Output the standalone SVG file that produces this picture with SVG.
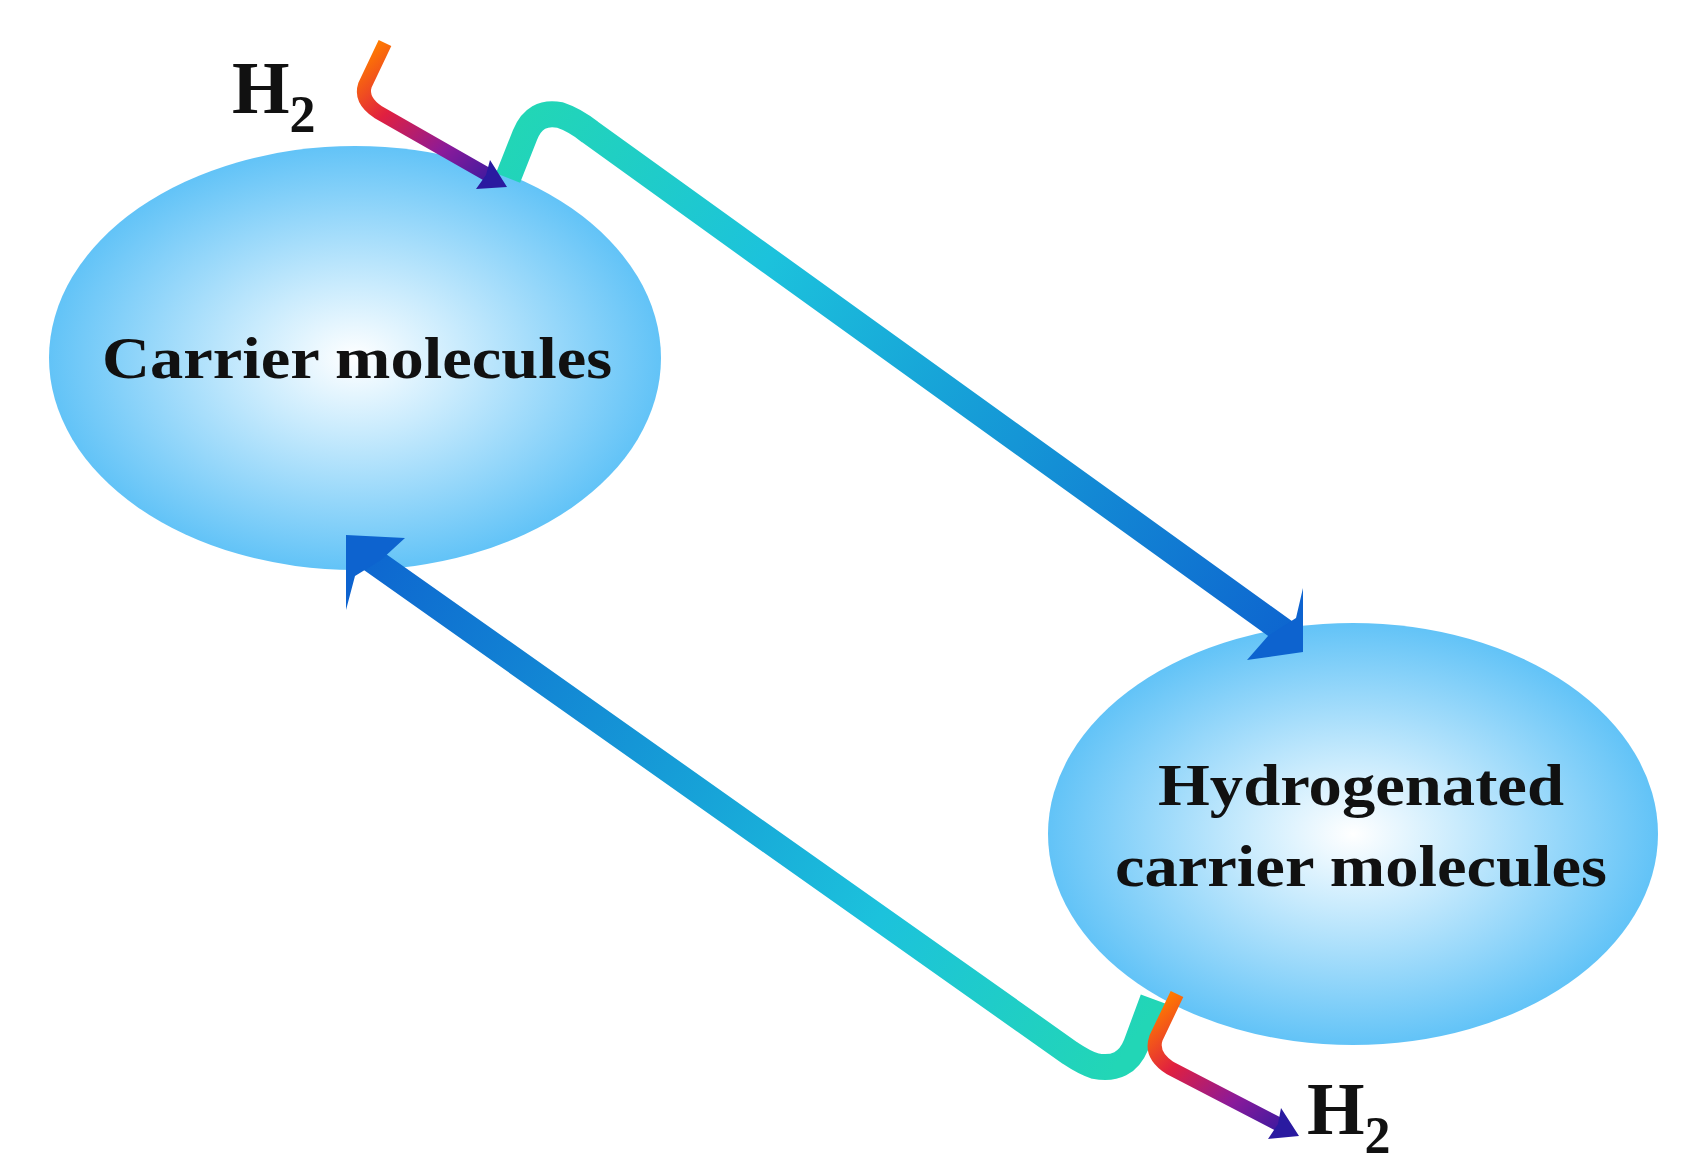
<svg xmlns="http://www.w3.org/2000/svg" width="1686" height="1174" viewBox="0 0 1686 1174">
<defs>
<radialGradient id="ball" cx="0.5" cy="0.5" r="0.5"><stop offset="0" stop-color="#ffffff"/><stop offset="0.35" stop-color="#c9ebfd"/><stop offset="1" stop-color="#62c3f7"/></radialGradient>
<linearGradient id="g1" gradientUnits="userSpaceOnUse" x1="520" y1="120" x2="1300" y2="650"><stop offset="0" stop-color="#22d6b6"/><stop offset="0.3" stop-color="#1cc2dc"/><stop offset="1" stop-color="#0d63cf"/></linearGradient>
<linearGradient id="g2" gradientUnits="userSpaceOnUse" x1="1120" y1="1060" x2="350" y2="540"><stop offset="0" stop-color="#22d6b6"/><stop offset="0.3" stop-color="#1cc2dc"/><stop offset="1" stop-color="#0d63cf"/></linearGradient>
<linearGradient id="h1" gradientUnits="userSpaceOnUse" x1="375" y1="45" x2="505" y2="186"><stop offset="0" stop-color="#ff7a00"/><stop offset="0.3" stop-color="#e02040"/><stop offset="0.65" stop-color="#8a1a9a"/><stop offset="1" stop-color="#2a1aa0"/></linearGradient>
<linearGradient id="h2" gradientUnits="userSpaceOnUse" x1="1170" y1="994" x2="1296" y2="1134"><stop offset="0" stop-color="#ff7a00"/><stop offset="0.3" stop-color="#e02040"/><stop offset="0.65" stop-color="#8a1a9a"/><stop offset="1" stop-color="#2a1aa0"/></linearGradient>
<style>.t{font-family:"Liberation Serif","Times New Roman",serif;font-weight:bold;fill:#111}</style>
</defs>
<rect width="1686" height="1174" fill="#fff"/>
<g id="node-carrier"><ellipse cx="355" cy="358" rx="306" ry="212" fill="url(#ball)"/>
<text class="t" x="357" y="378" font-size="60" text-anchor="middle" textLength="510" lengthAdjust="spacingAndGlyphs">Carrier molecules</text></g>
<g id="node-hydro"><ellipse cx="1353" cy="834" rx="305" ry="211" fill="url(#ball)"/>
<text class="t" x="1361" y="805" font-size="60" text-anchor="middle" textLength="406" lengthAdjust="spacingAndGlyphs">Hydrogenated</text>
<text class="t" x="1361" y="886" font-size="60" text-anchor="middle" textLength="492" lengthAdjust="spacingAndGlyphs">carrier molecules</text></g>
<g id="label-h2-in"><text class="t" x="232" y="113" font-size="74">H<tspan font-size="52" dy="19">2</tspan></text></g>
<g id="label-h2-out"><text class="t" x="1307" y="1134" font-size="74">H<tspan font-size="52" dy="19">2</tspan></text></g>
<g id="connectors" fill="none">
<path d="M508 178 L525 135 Q535 110 560 115 Q575 120 590 132 L1285 632" stroke="url(#g1)" stroke-width="26"/>
<polygon points="1303,652 1247,660 1268,636 1296,618 1303,588" fill="#0d63cf"/>
<path d="M1153 999 L1136 1045 Q1125 1072 1095 1066 Q1085 1063 1070 1053 L365 555" stroke="url(#g2)" stroke-width="26"/>
<polygon points="346,535 405,538 381,560 355,576 346,610" fill="#0d63cf"/>
<path d="M385 43 L365 85 Q360 100 378 112 L490 176" stroke="url(#h1)" stroke-width="14"/>
<polygon points="507,187 476,189 486,175 490,160" fill="#2a1aa0"/>
<path d="M1177 994 L1156 1038 Q1150 1055 1170 1068 L1282 1126" stroke="url(#h2)" stroke-width="14"/>
<polygon points="1299,1136 1268,1139 1278,1124 1281,1108" fill="#2a1aa0"/>
</g>
</svg>
